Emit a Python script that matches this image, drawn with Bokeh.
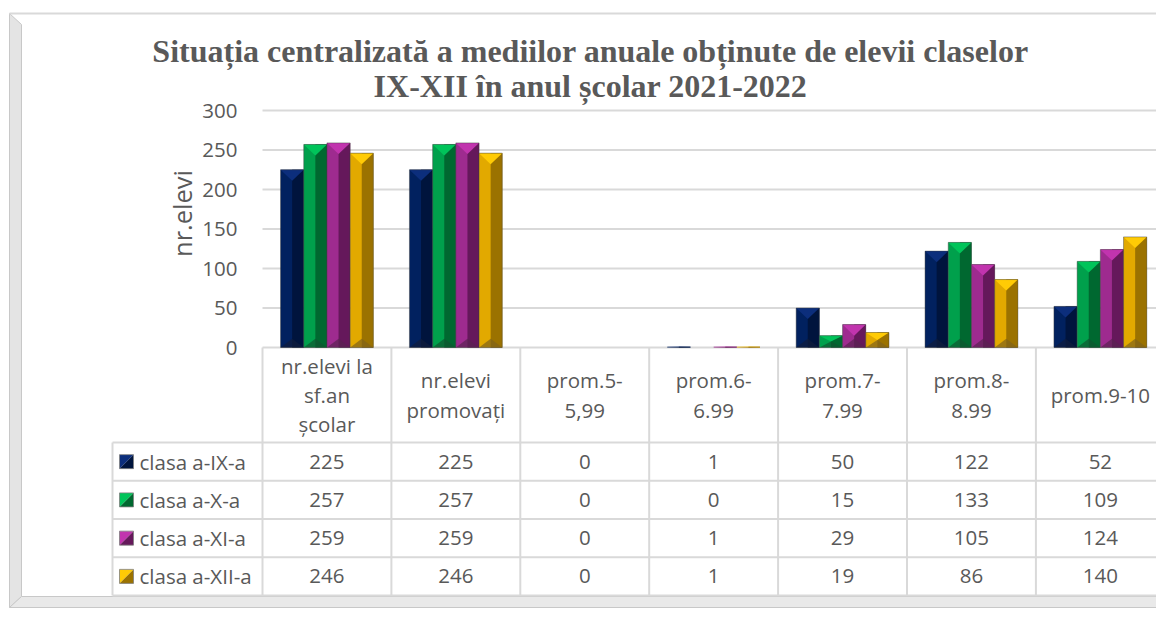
import math
from bokeh.plotting import figure
from bokeh.models import Range1d, LinearAxis, FixedTicker
from bokeh.core.properties import value
from bokeh.embed import file_html
from bokeh.resources import INLINE

# ---------------- data ----------------
title_lines = ["Situația centralizată a mediilor anuale obținute de elevii claselor",
               "IX-XII în anul școlar 2021-2022"]
y_axis_title = "nr.elevi"
categories = ["nr.elevi la\nsf.an\nșcolar", "nr.elevi\npromovați", "prom.5-\n5,99",
              "prom.6-\n6.99", "prom.7-\n7.99", "prom.8-\n8.99", "prom.9-10"]
series_names = ["clasa a-IX-a", "clasa a-X-a", "clasa a-XI-a", "clasa a-XII-a"]
clasa_IX = [225, 225, 0, 1, 50, 122, 52]
clasa_X = [257, 257, 0, 0, 15, 133, 109]
clasa_XI = [259, 259, 0, 1, 29, 105, 124]
clasa_XII = [246, 246, 0, 1, 19, 86, 140]
y_ticks = [0, 50, 100, 150, 200, 250, 300]

series_values = [clasa_IX, clasa_X, clasa_XI, clasa_XII]
# front, side(dark), top(light), bottom(dark)
palette = [
    ("#01215f", "#00143d", "#0c2e7c", "#101c3c"),
    ("#00a04c", "#006830", "#00c45a", "#0e5530"),
    ("#9e2b8f", "#65185b", "#c134ae", "#5a2251"),
    ("#e2a900", "#9b7200", "#ffcb05", "#80631a"),
]

# ---------------- layout (page pixels) ----------------
W, H = 1156, 619
M = 0
PLOT_LEFT = 262.0
COL_W = 128.9
ZERO_Y = 347.0
PX_PER_VAL = 0.79
ROW_TOP = 442.0
ROW_H = 38.25
TXT = "#595959"
GRID = "#d9d9d9"
FONT = "Open Sans"
FS = "20.5px"


def X(px):
    return (px - PLOT_LEFT) / COL_W


def V(py):
    return (ZERO_Y - py) / PX_PER_VAL


def T(py):
    return (py - ROW_TOP) / ROW_H


p = figure(width=W, height=H,
           x_range=Range1d(X(M), X(M + W)),
           y_range=Range1d(V(M + H), V(M)),
           x_axis_type=None, y_axis_type=None,
           toolbar_location=None, output_backend="svg",
           min_border=0, outline_line_color=None,
           background_fill_color="white", border_fill_color="white")
p.extra_y_ranges = {"tbl": Range1d(T(M + H), T(M))}

# ---------------- outer frame (bevel) ----------------
p.patch([X(9), X(21), X(21), X(9)], [V(13), V(24), V(596), V(607)],
        fill_color="#e4e4e4", line_color="#c8c8c8", line_width=1)
p.patch([X(9), X(21), X(1170), X(1170)], [V(607), V(596), V(596), V(607)],
        fill_color="#e9e9e9", line_color="#c8c8c8", line_width=1)
p.segment(x0=[X(9)], y0=[V(13)], x1=[X(1170)], y1=[V(13)], line_color=GRID, line_width=2)

# ---------------- gridlines ----------------
n = len(categories)
p.segment(x0=[0] * len(y_ticks), y0=y_ticks, x1=[n] * len(y_ticks), y1=y_ticks,
          line_color=GRID, line_width=2)

# ---------------- bars ----------------
BAR_W = 0.18
BEVEL = 14.0
for j, (vals, cols) in enumerate(zip(series_values, palette)):
    front, side, top, bottom = cols
    off = (j - 1.5) * BAR_W
    xc = [i + 0.5 + off for i in range(n)]
    p.vbar(x=xc, top=vals, bottom=0, width=BAR_W, fill_color=front, line_color=None)
    p.vbar(x=[x + BAR_W / 4 for x in xc], top=vals, bottom=0, width=BAR_W / 2,
           fill_color=side, line_color=None)
    txs, tys, bxs, bys, ox, ov = [], [], [], [], [], []
    for x, v in zip(xc, vals):
        if v <= 0:
            continue
        h = min(BEVEL, v / 2.0)
        txs.append([x - BAR_W / 2, x + BAR_W / 2, x])
        tys.append([v, v, v - h])
        bxs.append([x - BAR_W / 2, x + BAR_W / 2, x])
        bys.append([0, 0, min(BEVEL * 0.8, v / 2.0)])
        if v >= 5:
            ox.append(x)
            ov.append(v)
    p.patches(txs, tys, fill_color=top, line_color=None)
    p.patches(bxs, bys, fill_color=bottom, fill_alpha=0.7, line_color=None)
    p.vbar(x=ox, top=ov, bottom=0, width=BAR_W, fill_color=None,
           line_color="#3c3c3c", line_alpha=0.55, line_width=0.8)

# ---------------- y axis ----------------
yax = LinearAxis(ticker=FixedTicker(ticks=y_ticks), fixed_location=0,
                 axis_line_color=None, major_tick_line_color=None,
                 minor_tick_line_color=None, major_label_standoff=19,
                 major_label_text_font=FONT, major_label_text_font_size=FS,
                 major_label_text_color=TXT)
p.add_layout(yax, "left")

p.text(x=[X(181)], y=[V(213)], text=[y_axis_title], angle=math.pi / 2,
       text_align="center", text_baseline="middle", text_font=value(FONT),
       text_font_size="25.5px", text_color=TXT)

# ---------------- title ----------------
p.text(x=[X(590), X(590)], y=[V(50), V(85)], text=title_lines,
       text_align="center", text_baseline="alphabetic",
       text_font=value("Liberation Serif"), text_font_style="bold",
       text_font_size="32px", text_color=TXT)

# ---------------- data table ----------------
nrows = len(series_names)
hdr_top = T(ZERO_Y)
# horizontal lines
p.segment(x0=[X(112)] * (nrows + 1), y0=list(range(nrows + 1)),
          x1=[n] * (nrows + 1), y1=list(range(nrows + 1)),
          line_color=GRID, line_width=2, y_range_name="tbl")
# vertical lines
p.segment(x0=list(range(n + 1)), y0=[hdr_top] * (n + 1),
          x1=list(range(n + 1)), y1=[nrows] * (n + 1),
          line_color=GRID, line_width=2, y_range_name="tbl")
p.segment(x0=[X(112)], y0=[0], x1=[X(112)], y1=[nrows],
          line_color=GRID, line_width=2, y_range_name="tbl")

# header labels
p.text(x=[i + 0.5 for i in range(n)], y=[hdr_top / 2] * n, text=categories,
       text_align="center", text_baseline="middle", text_line_height=1.05,
       text_font=value(FONT), text_font_size=FS, text_color=TXT, y_range_name="tbl")

# rows
for k, (name, vals, cols) in enumerate(zip(series_names, series_values, palette)):
    front, side, top, bottom = cols
    yc = k + 0.5
    hx, hy = 7.0 / COL_W, 7.0 / ROW_H
    mx = X(126)
    p.patch([mx - hx, mx + hx, mx - hx], [yc - hy, yc - hy, yc + hy],
            fill_color=top, line_color=None, y_range_name="tbl")
    p.patch([mx + hx, mx + hx, mx - hx], [yc - hy, yc + hy, yc + hy],
            fill_color=side, line_color=None, y_range_name="tbl")
    p.quad(left=[mx - hx], right=[mx + hx], top=[yc - hy], bottom=[yc + hy],
           fill_color=None, line_color="#7f7f7f", line_width=0.8, y_range_name="tbl")
    p.text(x=[X(139)], y=[yc], text=[name], text_align="left", text_baseline="middle",
           text_font=value(FONT), text_font_size=FS, text_color=TXT, y_range_name="tbl")
    p.text(x=[i + 0.5 for i in range(n)], y=[yc] * n, text=[str(v) for v in vals],
           text_align="center", text_baseline="middle",
           text_font=value(FONT), text_font_size=FS, text_color=TXT, y_range_name="tbl")

open("out.html", "w").write(file_html(p, INLINE))
